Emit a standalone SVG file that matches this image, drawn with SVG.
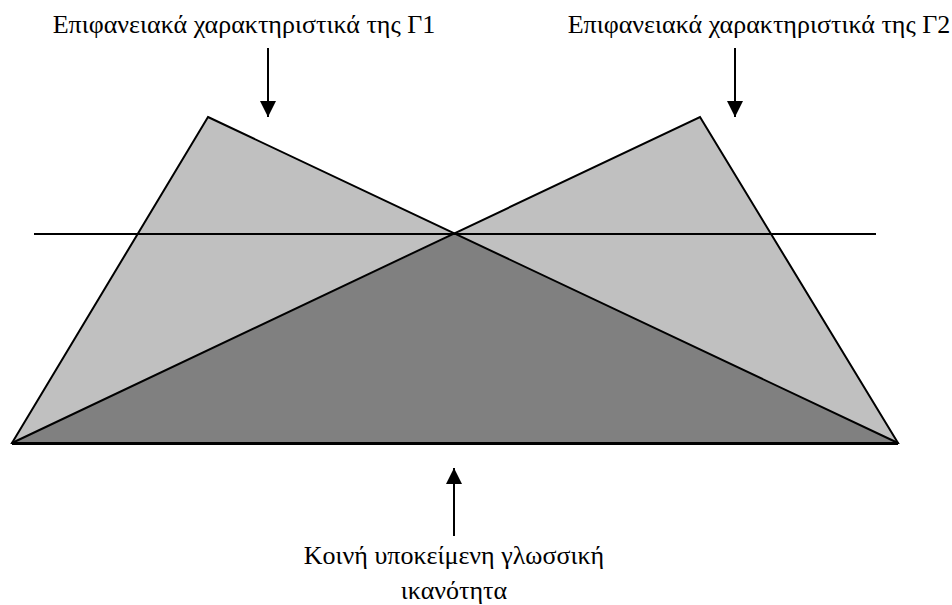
<svg xmlns="http://www.w3.org/2000/svg" width="952" height="605" viewBox="0 0 952 605">
<style>
.lbl{font-family:"Liberation Serif","DejaVu Serif",serif;font-size:26px;fill:#000;text-anchor:middle}
.edge{stroke:#000;stroke-width:2;fill:none}
.light{fill:#c0c0c0;stroke:none}
.dark{fill:#808080;stroke:none}
</style>
<defs>
<marker id="ah" markerUnits="userSpaceOnUse" markerWidth="16" markerHeight="18" viewBox="0 0 16 18" refX="16" refY="8" orient="auto">
<path d="M0,0 L16,8 L0,16 Z" fill="#000"/>
</marker>
</defs>
<rect width="952" height="605" fill="#fff"/>
<g id="triangles">
<polygon class="light" points="208,117 898,443 12,443"/>
<polygon class="light" points="700,117 898,443 12,443"/>
<polygon class="dark" points="12,443 455,234 898,443"/>
<polygon class="edge" points="208,117 898,443 12,443" stroke-linejoin="miter"/>
<polygon class="edge" points="700,117 898,443 12,443"/>
<line x1="12" y1="443.5" x2="898" y2="443.5" stroke="#000" stroke-width="3"/>
</g>
<g id="hline">
<line class="edge" x1="34" y1="234" x2="876" y2="234"/>
</g>
<g id="label-g1">
<text class="lbl" x="244" y="33">Επιφανειακά χαρακτηριστικά της Γ1</text>
</g>
<g id="label-g2">
<text class="lbl" x="759" y="33">Επιφανειακά χαρακτηριστικά της Γ2</text>
</g>
<g id="label-common">
<text class="lbl" x="454" y="564">Κοινή υποκείμενη γλωσσική</text>
<text class="lbl" x="454" y="599">ικανότητα</text>
</g>
<g id="connectors">
<line class="edge" x1="268" y1="48" x2="268" y2="117" marker-end="url(#ah)"/>
<line class="edge" x1="735" y1="48" x2="735" y2="117" marker-end="url(#ah)"/>
<line class="edge" x1="454" y1="536" x2="454" y2="468" marker-end="url(#ah)"/>
</g>
</svg>
